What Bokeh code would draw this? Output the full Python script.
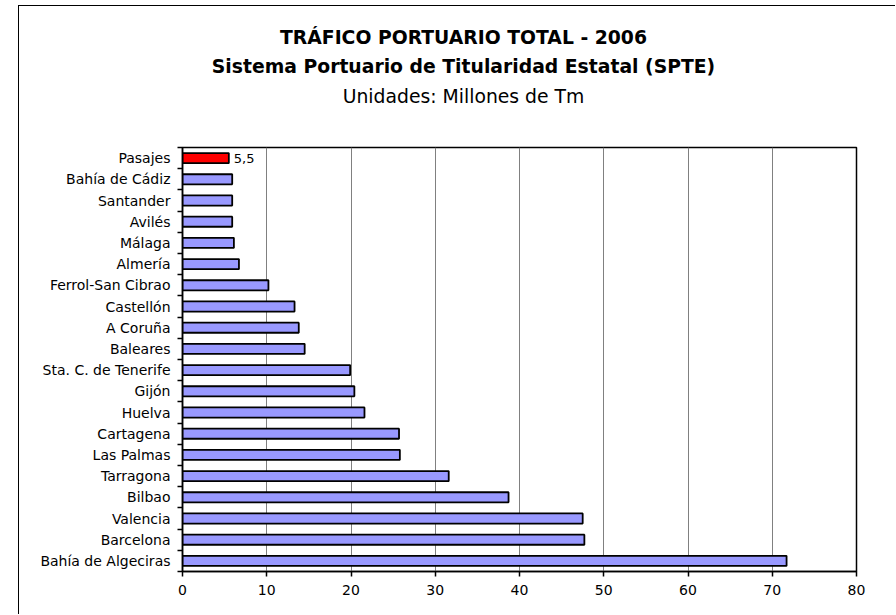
from bokeh.plotting import figure
from bokeh.models import (ColumnDataSource, Range1d, LinearAxis,
                          FixedTicker, CustomJSTickFormatter, Label)
from bokeh.core.properties import value
from bokeh.embed import file_html
from bokeh.resources import INLINE

# ---- data ----
puertos = ["Pasajes", "Bahía de Cádiz", "Santander", "Avilés", "Málaga", "Almería",
           "Ferrol-San Cibrao", "Castellón", "A Coruña", "Baleares", "Sta. C. de Tenerife",
           "Gijón", "Huelva", "Cartagena", "Las Palmas", "Tarragona", "Bilbao", "Valencia",
           "Barcelona", "Bahía de Algeciras"]
trafico = [5.5, 5.9, 5.9, 5.9, 6.1, 6.7, 10.2, 13.3, 13.8, 14.5, 19.9, 20.4, 21.6, 25.7,
           25.8, 31.6, 38.7, 47.5, 47.7, 71.7]
destacado = "Pasajes"
x_ticks = [0, 10, 20, 30, 40, 50, 60, 70, 80]
titulo1 = "TRÁFICO PORTUARIO TOTAL - 2006"
titulo2 = "Sistema Portuario de Titularidad Estatal (SPTE)"
titulo3 = "Unidades: Millones de Tm"

FONT = "DejaVu Sans"
n = len(puertos)
pos = [n - 1 - i + 0.5 for i in range(n)]   # slot centres, first item on top

colores = ["#FF0000" if nm == destacado else "#9999FF" for nm in puertos]
src = ColumnDataSource(dict(puerto=puertos, pos=pos, trafico=trafico, color=colores))
sel = [i for i, nm in enumerate(puertos) if nm == destacado]
lab_src = ColumnDataSource(dict(
    pos=[pos[i] for i in sel],
    trafico=[trafico[i] for i in sel],
    etiqueta=[f"{trafico[i]:.1f}".replace(".", ",") for i in sel],
))

# ---- layout geometry (canvas px) ----
W, H = 877, 609
FL, FR, FT, FB = 163, 837, 141, 565   # frame edges inside canvas

p = figure(width=W, height=H,
           y_range=Range1d(0, n),
           x_range=Range1d(x_ticks[0], x_ticks[-1]),
           output_backend="svg", toolbar_location=None,
           y_axis_location=None,
           min_border_left=FL, min_border_right=W - FR,
           min_border_top=FT, min_border_bottom=H - FB)
# outer chart border (left/top visible in the window)
p.styles = {"margin-left": "18px", "margin-top": "5px",
            "border-left": "1px solid black", "border-top": "1px solid black"}
p.background_fill_color = "white"
p.border_fill_color = "white"
p.outline_line_color = "black"
p.outline_line_width = 1.5

# x axis
xa = p.xaxis[0]
xa.ticker = FixedTicker(ticks=x_ticks)
xa.major_tick_out = 5
xa.major_tick_in = 0
xa.minor_tick_line_color = None
xa.axis_line_color = "black"
xa.axis_line_width = 1.5
xa.major_tick_line_width = 1.5
xa.major_label_standoff = 8
xa.major_label_text_font = FONT
xa.major_label_text_font_size = "14px"
xa.major_label_text_color = "black"

p.xgrid.ticker = FixedTicker(ticks=x_ticks)
p.xgrid.grid_line_color = "#808080"
p.xgrid.grid_line_width = 1
p.ygrid.visible = False

# category boundary ticks (Excel style)
ax_b = LinearAxis(ticker=FixedTicker(ticks=list(range(n + 1))),
                  formatter=CustomJSTickFormatter(code="return ''"),
                  major_tick_out=5, major_tick_in=0, minor_tick_line_color=None,
                  minor_tick_out=0, minor_tick_in=0,
                  major_label_standoff=0, axis_line_width=1.5, major_tick_line_width=1.5,
                  major_label_text_font_size="1px")
p.add_layout(ax_b, "left")
# category names at slot centres
cat_ax = LinearAxis(ticker=FixedTicker(ticks=pos),
                    major_label_overrides={pv: nm for pv, nm in zip(pos, puertos)},
                    major_tick_line_color=None, minor_tick_line_color=None,
                    major_tick_out=0, major_tick_in=0, minor_tick_out=0, minor_tick_in=0,
                    axis_line_color=None,
                    major_label_standoff=7, major_label_text_font=FONT,
                    major_label_text_font_size="14px", major_label_text_color="black")
p.add_layout(cat_ax, "left")

# bars
p.hbar(y="pos", left=0, right="trafico", height=0.476, source=src,
       fill_color="color", line_color="black", line_width=1.8)

# value label
p.text(x="trafico", y="pos", text="etiqueta", source=lab_src, x_offset=5,
       text_baseline="middle", text_align="left", text_font=value(FONT),
       text_font_size="13px", text_color="black")

# titles: placed in the top panel, positioned through the frame scales
px_x = (FR - FL) / (x_ticks[-1] - x_ticks[0])
px_y = (FB - FT) / n
def to_data(cx, cy):
    return (x_ticks[0] + (cx - FL) / px_x, (FB - cy) / px_y)

CX = 463 - 19
for txt, cy_page, bold in [(titulo3, 96, False), (titulo2, 66, True), (titulo1, 37, True)]:
    dx, dy = to_data(CX, cy_page - 6)
    p.add_layout(Label(x=dx, y=dy, text=txt,
                       text_align="center", text_baseline="middle", text_font=FONT,
                       text_font_size="18.8px",
                       text_font_style="bold" if bold else "normal", text_color="black"),
                 "above")

open("out.html", "w").write(file_html(p, INLINE))
